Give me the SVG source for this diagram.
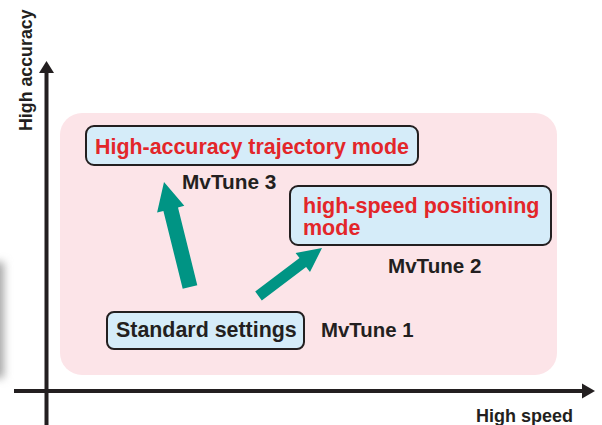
<svg xmlns="http://www.w3.org/2000/svg" width="602" height="425" viewBox="0 0 602 425">
<defs>
<style>
.t{font-family:"Liberation Sans",Arial,sans-serif;font-weight:bold;fill:#231f20}
.r{fill:#e3262a}
.box{fill:#d5ecf9;stroke:#231f20;stroke-width:2}
.ax{stroke:#231f20;stroke-width:4;fill:none}
.ar{fill:#009484}
</style>
<filter id="bl" x="-2" y="-1" width="5" height="3"><feGaussianBlur stdDeviation="4"/></filter>
</defs>
<rect width="602" height="425" fill="#fff"/>
<rect x="-12" y="262" width="16" height="116" fill="#a8a8a8" filter="url(#bl)"/>
<rect id="region" x="60" y="113" width="497" height="262" rx="22" fill="#fce4e8"/>
<g id="axes">
<line class="ax" x1="46.5" y1="425" x2="46.5" y2="70"/>
<polygon points="39,73 54,73 46.5,61" fill="#231f20"/>
<line class="ax" x1="14" y1="391" x2="584" y2="391"/>
<polygon points="582,383.5 582,398.5 595,391" fill="#231f20"/>
<text class="t" font-size="17.8" transform="translate(32,131) rotate(-90)">High accuracy</text>
<text class="t" x="476" y="422" font-size="18">High speed</text>
</g>
<g id="connectors">
<polygon class="ar" points="182.7,288.8 163.4,211 157.1,212.6 164,182 184.3,205.8 178,207.4 197.3,285.2"/>
<polygon class="ar" points="255.2,291.6 299.5,258.1 295.6,252.9 322,248 310,272.1 306.1,266.9 261.8,300.4"/>
</g>
<g id="node-accuracy">
<rect class="box" x="86" y="126" width="332" height="39" rx="8"/>
<text class="t r" x="95" y="153.5" font-size="21.4">High-accuracy trajectory mode</text>
<text class="t" x="182" y="189" font-size="20.8">MvTune 3</text>
</g>
<g id="node-speed">
<rect class="box" x="290" y="186" width="261" height="59" rx="8"/>
<text class="t r" x="303" y="213" font-size="21.5">high-speed positioning</text>
<text class="t r" x="303" y="235" font-size="21.5">mode</text>
<text class="t" x="388" y="273" font-size="20.6">MvTune 2</text>
</g>
<g id="node-standard">
<rect class="box" x="107" y="312" width="197" height="37" rx="7"/>
<text class="t" x="116" y="337" font-size="21.4">Standard settings</text>
<text class="t" x="321" y="337" font-size="20.4">MvTune 1</text>
</g>
</svg>
